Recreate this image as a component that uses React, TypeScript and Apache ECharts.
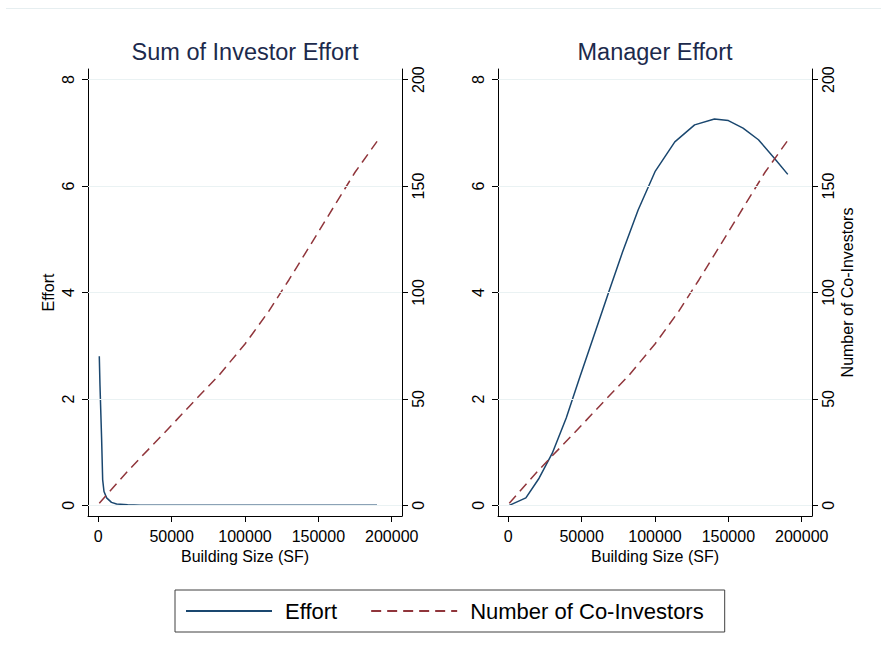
import React, { useEffect, useRef } from "react";
import * as echarts from "echarts";

// ---- Data ----
const xTicks = [0, 50000, 100000, 150000, 200000];
const effortTicks = [0, 2, 4, 6, 8];
const coInvTicks = [0, 50, 100, 150, 200];

// Panel 1: Sum of Investor Effort
const investorSize = [700, 1150, 2300, 3000, 3900, 5700, 9000, 12500, 20000, 28500, 50000, 100000, 150000, 190000];
const investorEffort = [2.8, 2.27, 1.23, 0.48, 0.26, 0.14, 0.056, 0.025, 0.01, 0.0, 0.0, 0.0, 0.0, 0.0];

// Panel 2: Manager Effort
const managerSize = [700, 12000, 21000, 30000, 39500, 48500, 59000, 69000, 78000, 88500, 100000, 113500, 127000, 140500, 150000, 160000, 170500, 181500, 190500];
const managerEffort = [0.0, 0.14, 0.51, 0.98, 1.64, 2.39, 3.24, 4.05, 4.77, 5.55, 6.27, 6.83, 7.15, 7.26, 7.23, 7.09, 6.87, 6.52, 6.22];

// Number of co-investors (both panels)
const coInvSize = [700, 10000, 20000, 30000, 45000, 65000, 82000, 100000, 116000, 130000, 145000, 160000, 175000, 190000];
const coInvestors = [1, 8.3, 16, 23.3, 34, 48.7, 60.9, 75.8, 91, 106, 122.8, 139.7, 156.5, 171];

const titles = ["Sum of Investor Effort", "Manager Effort"];

const FONT = "'Liberation Sans', Arial, Helvetica, sans-serif";
const BLUE = "#1a476f";
const RED = "#90353b";
const GRID = "#eaf2f3";

const zip = (xs: number[], ys: number[]) => xs.map((x, i) => [x, ys[i]]);

export default function App() {
  const ref = useRef<HTMLDivElement>(null);

  useEffect(() => {
    if (!ref.current) return;
    const chart = echarts.init(ref.current, undefined, { renderer: "svg" });

    const grids = [
      { left: 88, top: 69, width: 314, height: 447 },
      { left: 498, top: 69, width: 314, height: 447 },
    ];

    const tickText = { fontSize: 16, color: "#000", fontFamily: FONT };

    const xAxis = [0, 1].map((i) => ({
      type: "value",
      gridIndex: i,
      min: -7000,
      max: 207000,
      name: "Building Size (SF)",
      nameLocation: "middle",
      nameGap: 27,
      nameTextStyle: { ...tickText },
      axisLine: { show: true, onZero: false, lineStyle: { color: "#000", width: 1 } },
      axisTick: { show: true, length: 6, customValues: xTicks, lineStyle: { color: "#000" } },
      axisLabel: { customValues: xTicks, margin: 12, ...tickText, formatter: (v: number) => String(v) },
      splitLine: { show: false },
    }));

    const mkY = (grid: number, side: "left" | "right", isEffort: boolean, name: string) => ({
      type: "value",
      gridIndex: grid,
      position: side,
      min: isEffort ? -0.2 : -5,
      max: isEffort ? 8.2 : 205,
      name,
      nameLocation: "middle",
      nameRotate: 90,
      nameGap: side === "left" ? 32 : 27,
      nameTextStyle: { ...tickText },
      axisLine: { show: true, onZero: false, lineStyle: { color: "#000", width: 1 } },
      axisTick: {
        show: true,
        length: 6,
        customValues: isEffort ? effortTicks : coInvTicks,
        lineStyle: { color: "#000" },
      },
      axisLabel: {
        customValues: isEffort ? effortTicks : coInvTicks,
        rotate: 90,
        margin: side === "left" ? 12 : 8,
        ...tickText,
        formatter: (v: number) => String(v),
      },
      splitLine: { show: false },
    });

    const yAxis = [
      mkY(0, "left", true, "Effort"),
      mkY(0, "right", false, ""),
      mkY(1, "left", true, ""),
      mkY(1, "right", false, "Number of Co-Investors"),
    ];

    const gridLines = {
      silent: true,
      symbol: "none",
      label: { show: false },
      lineStyle: { color: GRID, width: 1, type: "solid" },
      emphasis: { disabled: true },
      data: effortTicks.map((v) => ({ yAxis: v })),
    };

    const effortSeries = (i: number, data: number[][]) => ({
      type: "line",
      name: "Effort",
      xAxisIndex: i,
      yAxisIndex: i * 2,
      data,
      symbol: "none",
      showSymbol: false,
      lineStyle: { color: BLUE, width: 1.5 },
      itemStyle: { color: BLUE },
      z: 3,
      markLine: gridLines,
    });

    const coSeries = (i: number) => ({
      type: "line",
      name: "Number of Co-Investors",
      xAxisIndex: i,
      yAxisIndex: i * 2 + 1,
      data: zip(coInvSize, coInvestors),
      symbol: "none",
      showSymbol: false,
      lineStyle: { color: RED, width: 1.5, type: [10, 6] },
      itemStyle: { color: RED },
      z: 4,
    });

    chart.setOption({
      animation: false,
      backgroundColor: "#ffffff",
      textStyle: { fontFamily: FONT },
      grid: grids,
      xAxis,
      yAxis,
      legend: {
        data: ["Effort", "Number of Co-Investors"],
        left: 175,
        top: 590,
        orient: "horizontal",
        padding: [10, 21, 10, 10],
        itemWidth: 86,
        itemHeight: 14,
        itemGap: 33,
        borderColor: "#404040",
        borderWidth: 1,
        selectedMode: false,
        itemStyle: { opacity: 0 },
        lineStyle: { width: 2 },
        textStyle: { fontSize: 22, color: "#000", fontFamily: FONT, padding: [0, 0, 0, 8] },
      },
      series: [
        effortSeries(0, zip(investorSize, investorEffort)),
        coSeries(0),
        effortSeries(1, zip(managerSize, managerEffort)),
        coSeries(1),
      ],
      graphic: [
        {
          type: "line",
          shape: { x1: 6, y1: 8.5, x2: 881, y2: 8.5 },
          style: { stroke: "#e6eef0", lineWidth: 1 },
          silent: true,
        },
        ...titles.map((t, i) => ({
          type: "text",
          x: i === 0 ? 245 : 655,
          y: 52,
          silent: true,
          style: {
            text: t,
            fill: "#1c2a4c",
            font: `23.5px ${FONT}`,
            textAlign: "center",
            textVerticalAlign: "middle",
          },
        })),
      ],
    });

    return () => chart.dispose();
  }, []);

  return (
    <div
      ref={ref}
      style={{ position: "absolute", left: 0, top: 0, width: 881, height: 649 }}
    />
  );
}
